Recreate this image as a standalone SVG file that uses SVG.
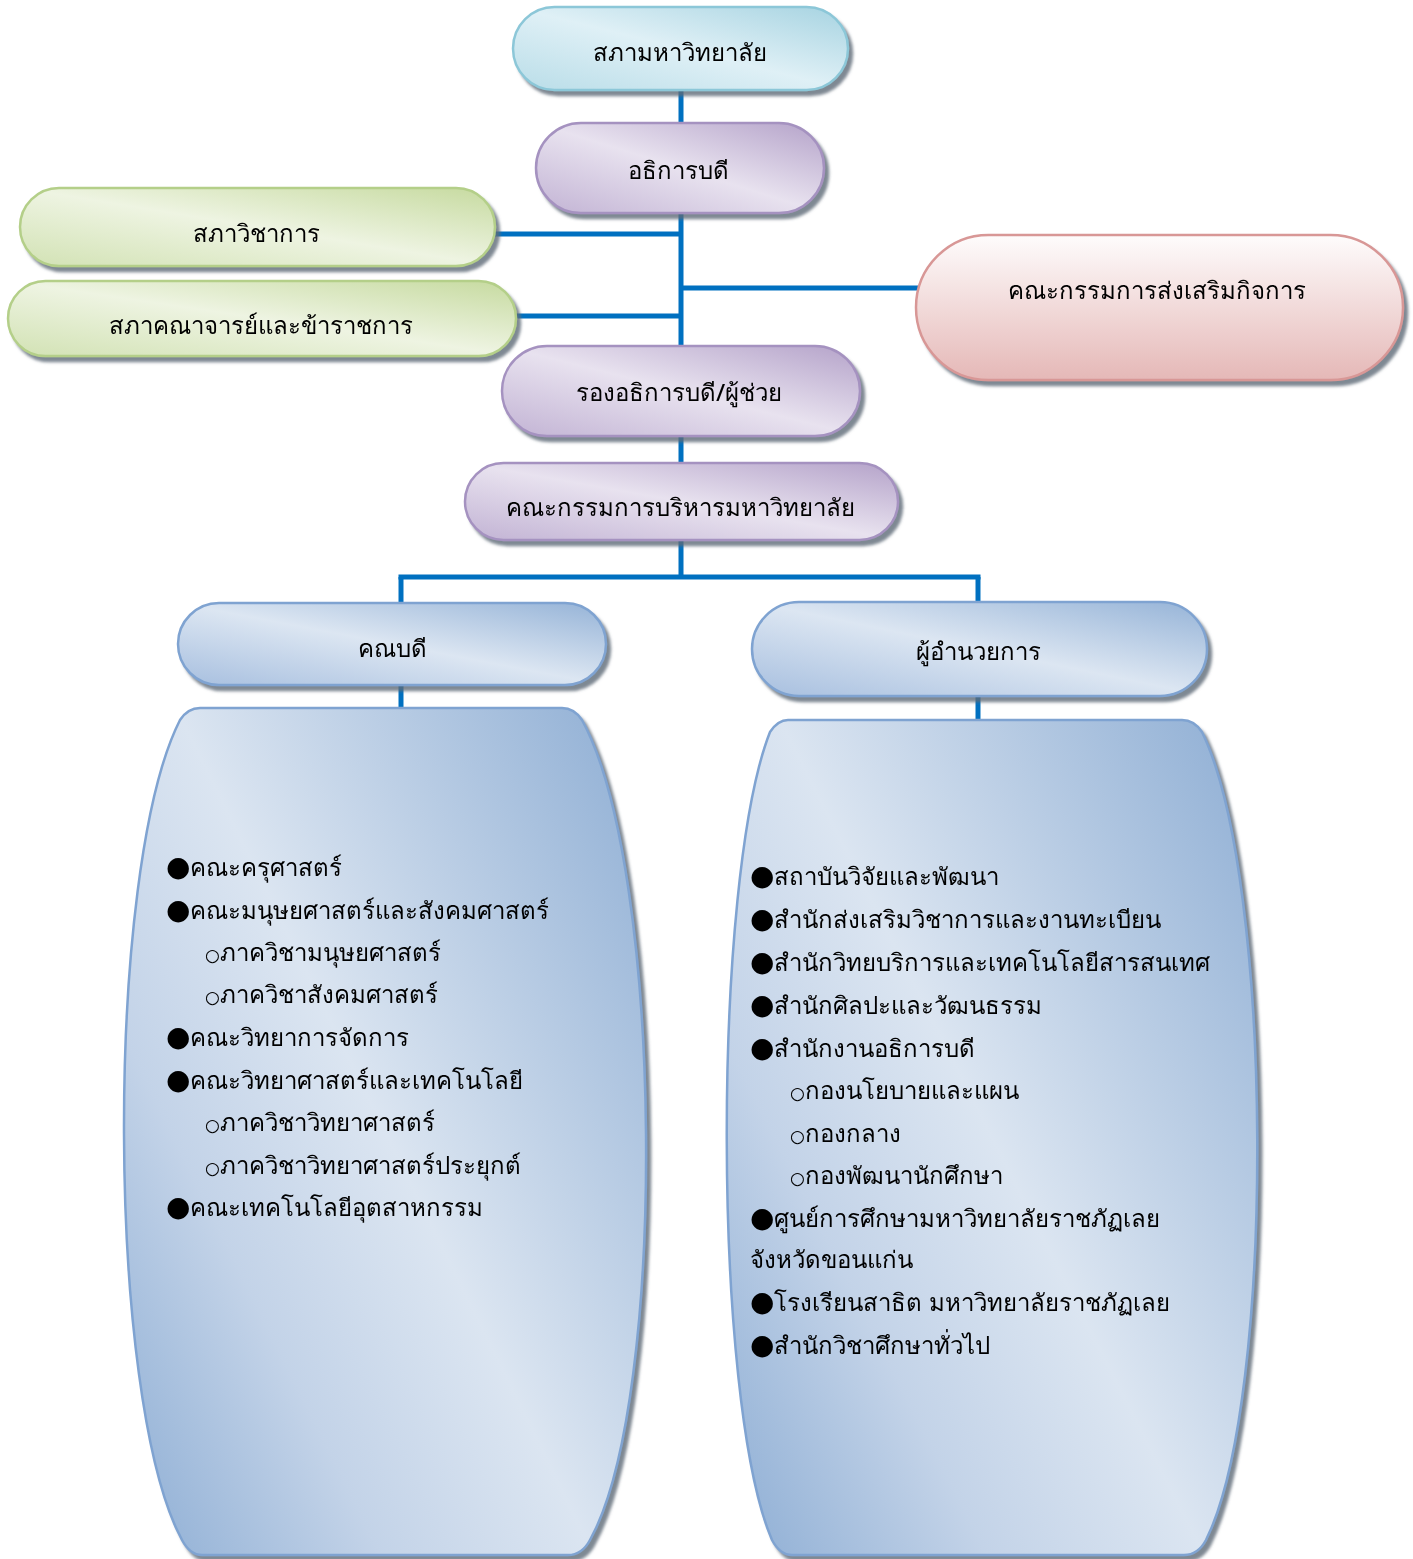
<svg xmlns="http://www.w3.org/2000/svg" width="1413" height="1559" viewBox="0 0 1413 1559">
<defs>
<filter id="sh" x="-5%" y="-10%" width="112%" height="125%">
<feGaussianBlur in="SourceAlpha" stdDeviation="1.5"/>
<feOffset dx="4" dy="5" result="o"/>
<feFlood flood-color="#5f6b78" flood-opacity="0.8"/>
<feComposite in2="o" operator="in"/>
<feMerge><feMergeNode/><feMergeNode in="SourceGraphic"/></feMerge>
</filter>
<linearGradient id="gCyan" x1="1" y1="0" x2="0" y2="1">
<stop offset="0" stop-color="#a6d3e1"/><stop offset="0.5" stop-color="#dff0f6"/><stop offset="1" stop-color="#b9dde8"/>
</linearGradient>
<linearGradient id="gPur" x1="1" y1="0" x2="0" y2="1">
<stop offset="0" stop-color="#b4a2c9"/><stop offset="0.5" stop-color="#e8e2ef"/><stop offset="1" stop-color="#c2b3d4"/>
</linearGradient>
<linearGradient id="gGrn" x1="1" y1="0" x2="0" y2="1">
<stop offset="0" stop-color="#c6da9f"/><stop offset="0.5" stop-color="#eef4e2"/><stop offset="1" stop-color="#d2e2b4"/>
</linearGradient>
<linearGradient id="gPink" x1="0" y1="0" x2="0" y2="1">
<stop offset="0" stop-color="#fefcfc"/><stop offset="1" stop-color="#e5b8b7"/>
</linearGradient>
<linearGradient id="gBlue" x1="1" y1="0" x2="0" y2="1">
<stop offset="0" stop-color="#95b3d7"/><stop offset="0.5" stop-color="#dce6f2"/><stop offset="1" stop-color="#a7bfdf"/>
</linearGradient>
<linearGradient id="gBar" x1="1" y1="0.1" x2="0" y2="0.9">
<stop offset="0" stop-color="#94b2d6"/><stop offset="0.5" stop-color="#dbe5f1"/><stop offset="0.75" stop-color="#c3d3e8"/><stop offset="1" stop-color="#95b3d7"/>
</linearGradient>
<style>
.c{fill:none;stroke:#0070c0;stroke-width:5}
.t{font-family:"Noto Sans","DejaVu Sans",sans-serif;font-size:24px;font-weight:500;fill:#000;text-anchor:middle}
.l{font-family:"Noto Sans","DejaVu Sans",sans-serif;font-size:24px;font-weight:500;fill:#000}
.b{font-size:28px}
.s{font-size:17px}
.cy{fill:url(#gCyan);stroke:#8cc7d8;stroke-width:2.5}
.pu{fill:url(#gPur);stroke:#a592c0;stroke-width:2.5}
.gr{fill:url(#gGrn);stroke:#b4cf89;stroke-width:2.5}
.pk{fill:url(#gPink);stroke:#d89796;stroke-width:2.5}
.bl{fill:url(#gBlue);stroke:#7fa3d1;stroke-width:2.5}
.br{fill:url(#gBar);stroke:#7fa3d1;stroke-width:2.5}
</style>
</defs>
<rect width="1413" height="1559" fill="#ffffff"/>
<g id="connectors">
<path class="c" d="M681 88 V577"/>
<path class="c" d="M493 234 H681"/>
<path class="c" d="M514 316 H681"/>
<path class="c" d="M681 288 H918"/>
<path class="c" d="M398.5 577 H980.5"/>
<path class="c" d="M401 577 V605"/>
<path class="c" d="M978 577 V604"/>
<path class="c" d="M401 683 V710"/>
<path class="c" d="M978 694 V722"/>
</g>
<g id="n-sapha" filter="url(#sh)">
<rect class="cy" x="513" y="7" width="335" height="83" rx="41.5"/>
<text class="t" x="680" y="61">สภามหาวิทยาลัย</text>
</g>
<g id="n-president" filter="url(#sh)">
<rect class="pu" x="536" y="123" width="288" height="90" rx="45"/>
<text class="t" x="678" y="179">อธิการบดี</text>
</g>
<g id="n-academic" filter="url(#sh)">
<rect class="gr" x="20" y="188" width="475" height="78" rx="39"/>
<text class="t" x="256" y="242">สภาวิชาการ</text>
</g>
<g id="n-faculty-senate" filter="url(#sh)">
<rect class="gr" x="8" y="281" width="508" height="75" rx="37.5"/>
<text class="t" x="261" y="334">สภาคณาจารย์และข้าราชการ</text>
</g>
<g id="n-promotion" filter="url(#sh)">
<rect class="pk" x="916" y="235" width="487" height="145" rx="72.5"/>
<text class="t" x="1157" y="299">คณะกรรมการส่งเสริมกิจการ</text>
</g>
<g id="n-vice" filter="url(#sh)">
<rect class="pu" x="502" y="346" width="358" height="90" rx="45"/>
<text class="t" x="679" y="401">รองอธิการบดี/ผู้ช่วย</text>
</g>
<g id="n-exec" filter="url(#sh)">
<rect class="pu" x="465" y="463" width="433" height="77" rx="38.5"/>
<text class="t" x="680" y="516">คณะกรรมการบริหารมหาวิทยาลัย</text>
</g>
<g id="n-dean" filter="url(#sh)">
<rect class="bl" x="178" y="603" width="428" height="82" rx="41"/>
<text class="t" x="392" y="657">คณบดี</text>
</g>
<g id="n-director" filter="url(#sh)">
<rect class="bl" x="752" y="602" width="455" height="94" rx="47"/>
<text class="t" x="978" y="660">ผู้อำนวยการ</text>
</g>
<g id="n-faculties" filter="url(#sh)">
<path class="br" d="M200 708 L562 708 Q574 708 582 720 C664 870 668 1400 590 1540 Q582 1555 568 1555 L202 1555 Q190 1555 182 1540 C106 1400 104 870 180 720 Q188 708 200 708 Z"/>
<text class="l" x="166" y="876"><tspan class="b">●</tspan>คณะครุศาสตร์</text>
<text class="l" x="166" y="919"><tspan class="b">●</tspan>คณะมนุษยศาสตร์และสังคมศาสตร์</text>
<text class="l" x="205" y="961"><tspan class="s">○</tspan>ภาควิชามนุษยศาสตร์</text>
<text class="l" x="205" y="1003"><tspan class="s">○</tspan>ภาควิชาสังคมศาสตร์</text>
<text class="l" x="166" y="1046"><tspan class="b">●</tspan>คณะวิทยาการจัดการ</text>
<text class="l" x="166" y="1089"><tspan class="b">●</tspan>คณะวิทยาศาสตร์และเทคโนโลยี</text>
<text class="l" x="205" y="1131"><tspan class="s">○</tspan>ภาควิชาวิทยาศาสตร์</text>
<text class="l" x="205" y="1174"><tspan class="s">○</tspan>ภาควิชาวิทยาศาสตร์ประยุกต์</text>
<text class="l" x="166" y="1216"><tspan class="b">●</tspan>คณะเทคโนโลยีอุตสาหกรรม</text>
</g>
<g id="n-offices" filter="url(#sh)">
<path class="br" d="M788 720 L1182 720 Q1194 720 1202 732 C1274 880 1276 1400 1206 1540 Q1198 1555 1184 1555 L792 1555 Q780 1555 772 1540 C712 1400 712 880 770 732 Q778 720 788 720 Z"/>
<text class="l" x="750" y="885"><tspan class="b">●</tspan>สถาบันวิจัยและพัฒนา</text>
<text class="l" x="750" y="928"><tspan class="b">●</tspan>สำนักส่งเสริมวิชาการและงานทะเบียน</text>
<text class="l" x="750" y="971"><tspan class="b">●</tspan>สำนักวิทยบริการและเทคโนโลยีสารสนเทศ</text>
<text class="l" x="750" y="1014"><tspan class="b">●</tspan>สำนักศิลปะและวัฒนธรรม</text>
<text class="l" x="750" y="1057"><tspan class="b">●</tspan>สำนักงานอธิการบดี</text>
<text class="l" x="790" y="1099"><tspan class="s">○</tspan>กองนโยบายและแผน</text>
<text class="l" x="790" y="1142"><tspan class="s">○</tspan>กองกลาง</text>
<text class="l" x="790" y="1184"><tspan class="s">○</tspan>กองพัฒนานักศึกษา</text>
<text class="l" x="750" y="1227"><tspan class="b">●</tspan>ศูนย์การศึกษามหาวิทยาลัยราชภัฏเลย</text>
<text class="l" x="750" y="1268">จังหวัดขอนแก่น</text>
<text class="l" x="750" y="1311"><tspan class="b">●</tspan>โรงเรียนสาธิต มหาวิทยาลัยราชภัฏเลย</text>
<text class="l" x="750" y="1354"><tspan class="b">●</tspan>สำนักวิชาศึกษาทั่วไป</text>
</g>
</svg>
